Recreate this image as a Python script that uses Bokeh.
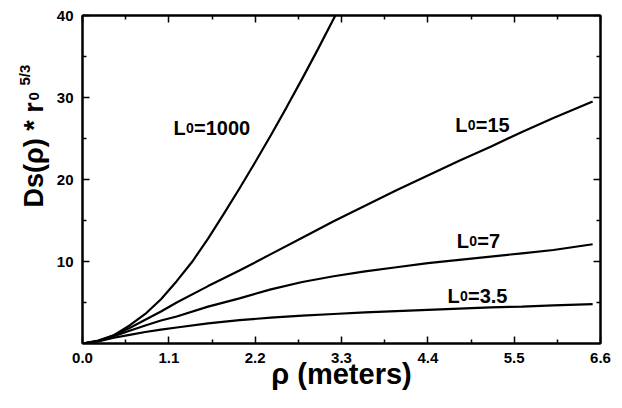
import math
from bokeh.plotting import figure
from bokeh.layouts import row
from bokeh.models import Range1d, LinearAxis, FixedTicker, Label, CustomLabelingPolicy
from bokeh.embed import file_html
from bokeh.resources import INLINE

# ---- data ----
rho_1000 = [0, 0.2, 0.4, 0.6, 0.8, 1.0, 1.2, 1.4, 1.6, 1.8, 2.0, 2.2, 2.4, 2.6, 2.8, 3.0, 3.2, 3.3]
ds_1000 = [0, 0.3, 1.0, 2.2, 3.6, 5.4, 7.6, 10.0, 12.8, 15.8, 18.9, 22.1, 25.4, 28.8, 32.3, 35.9, 39.6, 41.4]

rho = [0, 0.2, 0.4, 0.6, 0.8, 1.0, 1.2, 1.6, 2.0, 2.4, 2.8, 3.2, 3.6, 4.0, 4.4, 4.8, 5.2, 5.6, 6.0, 6.5]
ds_15 = [0, 0.35, 1.0, 1.9, 2.9, 3.9, 5.0, 7.0, 8.9, 10.9, 12.9, 14.9, 16.8, 18.7, 20.5, 22.3, 24.0, 25.8, 27.5, 29.5]
ds_7 = [0, 0.3, 0.9, 1.55, 2.2, 2.8, 3.3, 4.5, 5.5, 6.6, 7.5, 8.2, 8.8, 9.3, 9.8, 10.2, 10.6, 11.0, 11.4, 12.1]
ds_35 = [0, 0.25, 0.7, 1.05, 1.4, 1.7, 1.95, 2.45, 2.85, 3.15, 3.4, 3.6, 3.8, 3.95, 4.1, 4.25, 4.4, 4.5, 4.65, 4.8]

x_ticks = [0.0, 1.1, 2.2, 3.3, 4.4, 5.5, 6.6]
x_tick_labels = ["0.0", "1.1", "2.2", "3.3", "4.4", "5.5", "6.6"]
x_minor = [0.55, 1.65, 2.75, 3.85, 4.95, 6.05]
y_ticks = [10, 20, 30, 40]
y_tick_labels = ["10", "20", "30", "40"]
y_minor = [5, 15, 25, 35]

curve_labels = ["=1000", "=15", "=7", "=3.5"]
label_x = [1.16, 4.75, 4.77, 4.65]
label_y = [26.3, 26.7, 12.5, 5.8]

FONT = "Liberation Sans"

LEFT_W = 50
MAIN_W, MAIN_H = 570, 398

p = figure(width=MAIN_W, height=MAIN_H, output_backend="svg", toolbar_location=None,
           x_range=Range1d(0, 6.6), y_range=Range1d(0, 40),
           x_axis_location=None, y_axis_location=None,
           min_border_left=32, min_border_right=10, min_border_top=15, min_border_bottom=55)
p.xgrid.visible = False
p.ygrid.visible = False
p.outline_line_color = "black"
p.outline_line_width = 2
p.background_fill_color = "white"
p.border_fill_color = "white"

xt = FixedTicker(ticks=x_ticks, minor_ticks=x_minor)
yt = FixedTicker(ticks=y_ticks, minor_ticks=y_minor)

no_labels = CustomLabelingPolicy(code="return new indices.constructor(indices.size, 0)")


def style(ax, show_labels, ticks=None, labels=None):
    ax.axis_line_width = 2
    ax.major_tick_in = 7
    ax.major_tick_out = 0
    ax.minor_tick_in = 4
    ax.minor_tick_out = 0
    ax.major_tick_line_width = 1.5
    ax.minor_tick_line_width = 1.5
    ax.major_label_text_font = FONT
    ax.major_label_text_font_style = "bold"
    ax.major_label_text_font_size = "15px"
    ax.major_label_text_color = "black"
    if show_labels:
        ax.major_label_standoff = 9
        ax.major_label_overrides = {t: s for t, s in zip(ticks, labels)}
    else:
        ax.major_label_standoff = 0
        ax.major_label_policy = no_labels


bx = LinearAxis(ticker=xt)
style(bx, True, x_ticks, x_tick_labels)
bx.axis_label = "\u03c1 (meters)"
bx.axis_label_text_font = FONT
bx.axis_label_text_font_style = "bold"
bx.axis_label_text_font_size = "29px"
bx.axis_label_text_color = "black"
bx.axis_label_standoff = -8
p.add_layout(bx, "below")
tx = LinearAxis(ticker=xt)
style(tx, False)
p.add_layout(tx, "above")
ly = LinearAxis(ticker=yt)
style(ly, True, y_ticks, y_tick_labels)
p.add_layout(ly, "left")
ry = LinearAxis(ticker=yt)
style(ry, False)
p.add_layout(ry, "right")

for xs, ys in [(rho_1000, ds_1000), (rho, ds_15), (rho, ds_7), (rho, ds_35)]:
    p.line(xs, ys, line_color="black", line_width=2.2)


def lab(fig, **kw):
    kw.setdefault("text_font", FONT)
    kw.setdefault("text_font_style", "bold")
    kw.setdefault("text_color", "black")
    kw.setdefault("text_align", "left")
    kw.setdefault("text_baseline", "alphabetic")
    fig.add_layout(Label(**kw))


# curve labels: L, subscript 0, and the rest
for txt, lx, ly_ in zip(curve_labels, label_x, label_y):
    lab(p, x=lx, y=ly_, text="L", text_font_size="20px")
    lab(p, x=lx, y=ly_, x_offset=12.5, text="0", text_font_size="14px")
    lab(p, x=lx, y=ly_, x_offset=20.5, text=txt, text_font_size="20px")

# y axis title (rotated) in a narrow side panel, pixel coordinates
left = figure(width=LEFT_W, height=MAIN_H, output_backend="svg", toolbar_location=None,
              x_range=Range1d(0, LEFT_W), y_range=Range1d(0, MAIN_H),
              x_axis_location=None, y_axis_location=None,
              min_border_left=0, min_border_right=0, min_border_top=0, min_border_bottom=0)
left.xgrid.visible = False
left.ygrid.visible = False
left.outline_line_color = None
left.background_fill_color = "white"
left.border_fill_color = "white"

ang = math.pi / 2
lab(left, x=33, y=MAIN_H - 233, text="Ds(\u03c1) * r", angle=ang, text_font_size="27px")
lab(left, x=33, y=MAIN_H - 103, text="0", angle=ang, text_font_size="15px")
lab(left, x=24, y=MAIN_H - 85, text="5/3", angle=ang, text_font_size="15px")

layout = row(left, p, spacing=0)

open("out.html", "w").write(file_html(layout, INLINE))
